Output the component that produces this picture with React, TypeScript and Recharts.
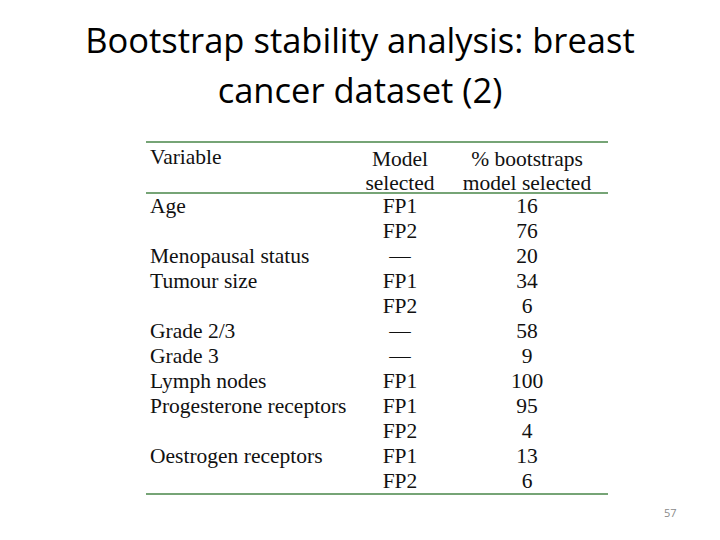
import { ScatterChart, Scatter, XAxis, YAxis } from "recharts";

// table content
const variables = [
  "Age",
  "",
  "Menopausal status",
  "Tumour size",
  "",
  "Grade 2/3",
  "Grade 3",
  "Lymph nodes",
  "Progesterone receptors",
  "",
  "Oestrogen receptors",
  "",
];
const modelSelected = ["FP1", "FP2", "—", "FP1", "FP2", "—", "—", "FP1", "FP1", "FP2", "FP1", "FP2"];
const pctBootstraps = [16, 76, 20, 34, 6, 58, 9, 100, 95, 4, 13, 6];
const columns = ["Model\nselected", "% bootstraps\nmodel selected"];

const rowIndex = variables.map((_, i) => i);
const modelData = modelSelected.map((m, i) => ({ col: columns[0], row: i, label: m }));
const pctData = pctBootstraps.map((p, i) => ({ col: columns[1], row: i, label: String(p) }));

const SERIF = '"Liberation Serif", "Times New Roman", serif';
const FS = 21.5;
const RULE = "#76a476";

const CellText = (props: any) => {
  const { cx, cy, payload } = props;
  return (
    <text x={cx} y={cy + 7.5} textAnchor="middle" fontFamily={SERIF} fontSize={FS} fill="#111">
      {payload.label}
    </text>
  );
};

const HeaderTick = (props: any) => {
  const { x, y, payload } = props;
  const lines = String(payload.value).split("\n");
  return (
    <text x={x} textAnchor="middle" fontFamily={SERIF} fontSize={FS} fill="#111">
      {lines.map((l, i) => (
        <tspan key={i} x={x} y={y - 27 + i * 24.5}>
          {l}
        </tspan>
      ))}
    </text>
  );
};

const Rule = ({ top }: { top: number }) => (
  <div style={{ position: "absolute", left: 146, top, width: 462, height: 2, background: RULE }} />
);

export default function App() {
  return (
    <div style={{ position: "fixed", left: 0, top: 0, width: 720, height: 540, background: "#fff", overflow: "hidden" }}>
      <div
        style={{
          position: "absolute",
          left: 0,
          top: 15,
          width: 720,
          textAlign: "center",
          fontFamily: '"Open Sans", sans-serif',
          fontSize: 34.5,
          lineHeight: "50px",
          color: "#000",
        }}
      >
        Bootstrap stability analysis: breast
        <br />
        cancer dataset (2)
      </div>

      <Rule top={141} />
      <Rule top={192} />
      <Rule top={493} />

      <div
        style={{
          position: "absolute",
          left: 150,
          top: 145,
          fontFamily: SERIF,
          fontSize: FS,
          color: "#111",
        }}
      >
        Variable
      </div>

      <div style={{ position: "absolute", left: 0, top: 0 }}>
        <ScatterChart width={720} height={540} margin={{ top: 142, right: 129.5, bottom: 47.5, left: 146 }}>
          <XAxis
            xAxisId="c"
            dataKey="col"
            type="category"
            orientation="top"
            allowDuplicatedCategory={false}
            height={50.5}
            axisLine={false}
            tickLine={false}
            tickSize={0}
            tickMargin={0}
            tick={<HeaderTick />}
            interval={0}
          />
          <YAxis
            yAxisId="r"
            dataKey="row"
            type="number"
            domain={[-0.5, 11.5]}
            reversed
            ticks={rowIndex}
            interval={0}
            width={190.5}
            axisLine={false}
            tickLine={false}
            tickSize={0}
            tickMargin={186.5}
            tickFormatter={(v: number) => variables[v]}
            tick={{ textAnchor: "start", fontFamily: SERIF, fontSize: FS, fill: "#111" }}
          />
          <Scatter xAxisId="c" yAxisId="r" data={modelData} shape={<CellText />} isAnimationActive={false} />
          <Scatter xAxisId="c" yAxisId="r" data={pctData} shape={<CellText />} isAnimationActive={false} />
        </ScatterChart>
      </div>

      <div
        style={{
          position: "absolute",
          left: 664,
          top: 505,
          fontFamily: '"Open Sans", sans-serif',
          fontSize: 11,
          color: "#8a8a8a",
        }}
      >
        57
      </div>
    </div>
  );
}
